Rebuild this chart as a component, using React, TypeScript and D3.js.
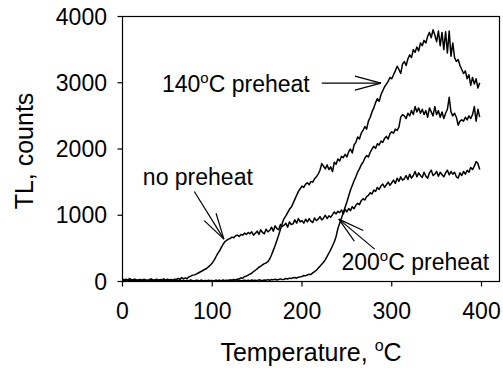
import React from "react";
import * as d3 from "d3";

// Temperatures (°C) of the sampled points: 0, 2, 4, ... 398
const tempStart = 0;
const tempStep = 2;

const noPreheat = [
  40, 20, 35, 25, 45, 20, 30, 35, 20, 25,
  30, 20, 35, 25, 15, 30, 40, 20, 25, 35,
  20, 30, 25, 40, 20, 35, 25, 30, 20, 35,
  30, 45, 35, 60, 40, 55, 45, 70, 80, 95,
  100, 110, 125, 140, 155, 170, 185, 200, 225, 250,
  280, 320, 370, 420, 460, 510, 560, 600, 620, 640,
  650, 670, 660, 690, 700, 680, 710, 700, 730, 710,
  740, 720, 750, 700, 730, 760, 710, 780, 740, 720,
  790, 750, 770, 820, 760, 840, 800, 780, 860, 830,
  850, 880, 820, 900, 860, 870, 930, 880, 950, 900,
  920, 880, 940, 900, 950, 910, 890, 960, 920, 940,
  980, 930, 960, 1000, 950, 990, 970, 1010, 1050, 1020,
  1060, 1040, 1080, 1020, 1090, 1050, 1100, 1070, 1130, 1100,
  1150, 1180, 1160, 1220, 1250, 1230, 1280, 1300, 1340, 1320,
  1380, 1360, 1420, 1390, 1440, 1470, 1420, 1460, 1500, 1450,
  1490, 1530, 1480, 1560, 1510, 1580, 1530, 1550, 1600, 1540,
  1620, 1560, 1600, 1660, 1580, 1640, 1600, 1570, 1650, 1590,
  1560, 1640, 1680, 1600, 1620, 1660, 1590, 1650, 1610, 1580,
  1640, 1680, 1610, 1660, 1620, 1650, 1580, 1560, 1640, 1600,
  1660, 1620, 1680, 1650, 1720, 1690, 1740, 1810, 1780, 1690,
];

const preheat140 = [
  20, 10, 25, 5, 15, 20, 8, 25, 12, 18,
  5, 20, 10, 22, 8, 15, 25, 10, 18, 6,
  15, 22, 8, 18, 12, 25, 6, 15, 20, 10,
  18, 5, 22, 12, 15, 8, 20, 10, 25, 12,
  6, 18, 15, 10, 22, 8, 16, 12, 20, 10,
  15, 8, 22, 12, 18, 10, 25, 14, 20, 15,
  25, 18, 30, 22, 35, 40, 55, 50, 75, 80,
  95, 110, 125, 150, 170, 190, 215, 230, 250, 270,
  280, 300, 340, 400, 470, 540, 620, 700, 790, 880,
  950, 990, 1040, 1090, 1120, 1180, 1240, 1300, 1360, 1400,
  1440, 1420, 1470, 1490, 1460, 1510, 1500, 1550, 1580, 1620,
  1680, 1780, 1740, 1700, 1760, 1690, 1730, 1660, 1800, 1770,
  1850, 1820, 1890, 1870, 1920, 1880, 1960, 2000, 1940, 2060,
  2100, 2180, 2150, 2240, 2280, 2340, 2300, 2420, 2480, 2560,
  2620, 2700, 2760, 2720, 2820, 2880, 2940, 2980, 3020, 3080,
  3060, 3120, 3180, 3250, 3200, 3140, 3280, 3320, 3260, 3360,
  3420, 3380, 3500, 3460, 3540, 3480, 3600, 3560, 3640, 3600,
  3700, 3760, 3680, 3800, 3720, 3620, 3780, 3560, 3760, 3500,
  3770, 3450, 3780, 3400, 3600, 3380, 3320, 3350, 3260, 3200,
  3140, 3180, 3060, 3120, 2960, 3080, 2980, 3060, 2920, 3000,
];

const preheat200 = [
  10, 5, 12, 8, 15, 6, 10, 4, 12, 8,
  5, 12, 9, 15, 6, 10, 4, 12, 8, 14,
  6, 10, 5, 12, 8, 15, 6, 10, 12, 5,
  14, 8, 10, 6, 15, 9, 12, 5, 10, 8,
  12, 6, 14, 8, 10, 5, 12, 9, 6, 14,
  8, 12, 5, 10, 15, 6, 12, 8, 10, 14,
  10, 15, 8, 12, 6, 18, 10, 14, 20, 12,
  18, 10, 22, 15, 20, 12, 25, 18, 15, 22,
  20, 28, 18, 30, 25, 35, 22, 30, 40, 28,
  35, 45, 38, 50, 45, 55, 60, 50, 65, 70,
  75, 90, 85, 100, 110, 105, 130, 150, 170, 200,
  230, 260, 290, 330, 380, 430, 480, 540, 600, 680,
  800, 880, 960, 1040, 1120, 1200, 1290, 1380, 1450, 1520,
  1580, 1650, 1700, 1760, 1800, 1860, 1900, 1880, 1950, 2000,
  2040, 2010, 2080, 2060, 2120, 2100, 2160, 2190, 2150, 2230,
  2260, 2240, 2300, 2280, 2330, 2480, 2520, 2500, 2460, 2540,
  2500, 2580, 2520, 2640, 2560, 2620, 2540, 2600, 2520, 2580,
  2480, 2620, 2560, 2500, 2640, 2520, 2580, 2480, 2560, 2460,
  2540, 2600, 2780, 2560, 2500, 2540, 2480, 2360, 2420, 2440,
  2420, 2480, 2440, 2500, 2460, 2520, 2640, 2420, 2600, 2480,
];

const seriesList = [noPreheat, preheat140, preheat200];

const xTicks = [0, 100, 200, 300, 400];
const yTicks = [0, 1000, 2000, 3000, 4000];

// Annotations in data units (text anchor, arrow start, arrow tip)
const annotationTexts = [
  { pre: "140", deg: true, post: "C preheat", tx: 44, ty: 2864, fx: 222, fy: 2995, ax: 288, ay: 2995 },
  { pre: "no preheat", deg: false, post: "", tx: 22.7, ty: 1460, fx: 80, fy: 1358, ax: 113, ay: 640 },
  { pre: "200", deg: true, post: "C preheat", tx: 244, ty: 177, fx: 281, fy: 489, ax: 241, ay: 942 },
];

const W = 503;
const H = 368;
const FONT = "'Liberation Sans', Arial, sans-serif";

export default function App() {
  const x = d3.scaleLinear().domain([0, 400]).range([122.5, 481.5]);
  const y = d3.scaleLinear().domain([0, 4000]).range([281.5, 16.5]);
  const frameRight = 499.5;

  const line = d3
    .line<number>()
    .x((_, i) => x(tempStart + i * tempStep))
    .y((v) => y(v));

  const headLen = 27;
  const headAng = (15 * Math.PI) / 180;

  return (
    <svg
      width={W}
      height={H}
      style={{ position: "absolute", left: 0, top: 0, background: "#fff" }}
      fontFamily={FONT}
    >
      <rect x={0} y={0} width={W} height={H} fill="#fff" />
      <rect
        x={x(0)}
        y={y(4000)}
        width={frameRight - x(0)}
        height={y(0) - y(4000)}
        fill="none"
        stroke="#000"
        strokeWidth={1.2}
      />
      {yTicks.map((t) => (
        <g key={"y" + t}>
          <line x1={x(0) - 5} x2={x(0)} y1={y(t)} y2={y(t)} stroke="#000" strokeWidth={1.2} />
          <text x={107} y={y(t) + 8} textAnchor="end" fontSize={23} fill="#000">
            {t}
          </text>
        </g>
      ))}
      {xTicks.map((t) => (
        <g key={"x" + t}>
          <line x1={x(t)} x2={x(t)} y1={y(0)} y2={y(0) + 5} stroke="#000" strokeWidth={1.2} />
          <text x={x(t)} y={319} textAnchor="middle" fontSize={23} fill="#000">
            {t}
          </text>
        </g>
      ))}
      <text x={311} y={361} textAnchor="middle" fontSize={25} fill="#000">
        Temperature,{" "}
        <tspan fontSize={16} dy={-10}>o</tspan>
        <tspan dy={10}>C</tspan>
      </text>
      <text transform={`translate(33,151) rotate(-90)`} textAnchor="middle" fontSize={25} fill="#000">
        TL, counts
      </text>
      {seriesList.map((s, i) => (
        <path key={"s" + i} d={line(s) || ""} fill="none" stroke="#000" strokeWidth={1.5} strokeLinejoin="round" />
      ))}
      {annotationTexts.map((a, i) => {
        const fx = x(a.fx), fy = y(a.fy), ax = x(a.ax), ay = y(a.ay);
        const ang = Math.atan2(fy - ay, fx - ax);
        const h1x = ax + headLen * Math.cos(ang + headAng);
        const h1y = ay + headLen * Math.sin(ang + headAng);
        const h2x = ax + headLen * Math.cos(ang - headAng);
        const h2y = ay + headLen * Math.sin(ang - headAng);
        return (
          <g key={"a" + i}>
            <line x1={fx} y1={fy} x2={ax} y2={ay} stroke="#000" strokeWidth={1.2} />
            <line x1={ax} y1={ay} x2={h1x} y2={h1y} stroke="#000" strokeWidth={1.2} />
            <line x1={ax} y1={ay} x2={h2x} y2={h2y} stroke="#000" strokeWidth={1.2} />
            <text x={x(a.tx)} y={y(a.ty)} fontSize={23} fill="#000">
              {a.pre}
              {a.deg ? (
                <>
                  <tspan fontSize={15} dy={-9}>o</tspan>
                  <tspan dy={9}>{a.post}</tspan>
                </>
              ) : null}
            </text>
          </g>
        );
      })}
    </svg>
  );
}
